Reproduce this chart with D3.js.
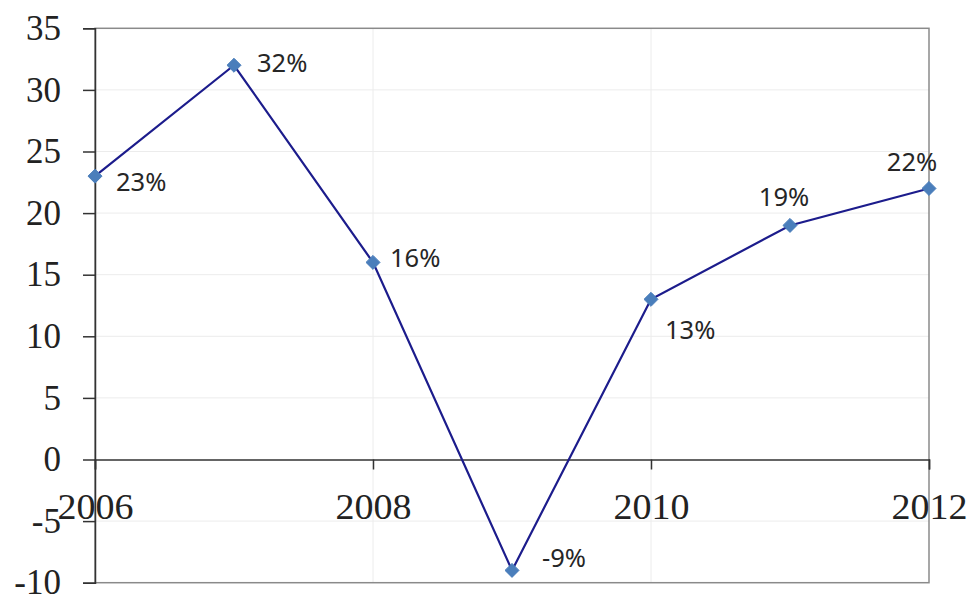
<!DOCTYPE html>
<html>
<head>
<meta charset="utf-8">
<script src="https://cdn.jsdelivr.net/npm/d3@7/dist/d3.min.js"></script>
<style>
  html, body { margin: 0; padding: 0; background: #fff; }
  svg { display: block; }
</style>
</head>
<body>
<svg id="chart" width="969" height="597"></svg>
<script>
// Annual growth rate, percent
const years = [2006, 2007, 2008, 2009, 2010, 2011, 2012];
const values = [23, 32, 16, -9, 13, 19, 22];
const yTicks = [-10, -5, 0, 5, 10, 15, 20, 25, 30, 35];
const xTickYears = [2006, 2008, 2010, 2012];
// label placement per point: [dx, dy, anchor]
const labelPlace = [
  [21, 6, "start"],
  [23, -2, "start"],
  [17, -5, "start"],
  [30, -13, "start"],
  [14, 30, "start"],
  [-6, -29, "middle"],
  [-17, -27, "middle"]
];

const svg = d3.select("#chart");
const plotLeft = 95, plotRight = 929, plotTop = 28.3, plotBottom = 582.7;

const x = d3.scaleLinear().domain([2006, 2012]).range([plotLeft, plotRight]);
const y = d3.scaleLinear().domain([-10, 35]).range([plotBottom, plotTop]);

// light gridlines
svg.append("g").selectAll("line").data(yTicks.filter(v => v !== 0 && v !== -10 && v !== 35))
  .join("line")
  .attr("x1", plotLeft).attr("x2", plotRight)
  .attr("y1", d => y(d)).attr("y2", d => y(d))
  .attr("stroke", "#ececec").attr("stroke-width", 1);
svg.append("g").selectAll("line").data([2008, 2010])
  .join("line")
  .attr("x1", d => x(d)).attr("x2", d => x(d))
  .attr("y1", plotTop).attr("y2", plotBottom)
  .attr("stroke", "#ececec").attr("stroke-width", 1);

// plot frame
svg.append("rect")
  .attr("x", plotLeft).attr("y", plotTop)
  .attr("width", plotRight - plotLeft).attr("height", plotBottom - plotTop)
  .attr("fill", "none").attr("stroke", "#8a8a8a").attr("stroke-width", 1.5);

// y axis
const yAxis = d3.axisLeft(y).tickValues(yTicks).tickFormat(d => String(d)).tickSize(12).tickPadding(22);
const gy = svg.append("g").attr("transform", `translate(${plotLeft},0)`).call(yAxis);
gy.select(".domain").attr("stroke", "#333").attr("stroke-width", 1.5);
gy.selectAll(".tick line").attr("stroke", "#333").attr("stroke-width", 1.5);
gy.selectAll(".tick text")
  .attr("font-family", "'Liberation Serif', 'Times New Roman', serif")
  .attr("font-size", 35).attr("fill", "#222")
  .attr("dy", "0.32em");

// x axis on the zero line
const xAxis = d3.axisBottom(x).tickValues(xTickYears).tickFormat(d => String(d)).tickSize(10).tickPadding(24);
const gx = svg.append("g").attr("transform", `translate(0,${y(0)})`).call(xAxis);
gx.select(".domain").attr("stroke", "#333").attr("stroke-width", 1.5);
gx.selectAll(".tick line").attr("stroke", "#333").attr("stroke-width", 1.5);
gx.selectAll(".tick text")
  .attr("font-family", "'Liberation Serif', 'Times New Roman', serif")
  .attr("font-size", 36).attr("fill", "#222")
  .attr("textLength", 76).attr("lengthAdjust", "spacingAndGlyphs");

const data = years.map((yr, i) => ({ yr, v: values[i], p: labelPlace[i] }));

// series line
svg.append("path").datum(data)
  .attr("d", d3.line().x(d => x(d.yr)).y(d => y(d.v)))
  .attr("fill", "none").attr("stroke", "#1c1c8c").attr("stroke-width", 2.2);

// diamond markers
svg.append("g").selectAll("path").data(data).join("path")
  .attr("d", d3.symbol().type(d3.symbolDiamond2).size(125))
  .attr("transform", d => `translate(${x(d.yr)},${y(d.v)})`)
  .attr("fill", "#4a7ebb").attr("stroke", "#4a7ebb").attr("stroke-width", 1);

// value labels
svg.append("g").selectAll("text").data(data).join("text")
  .attr("x", d => x(d.yr) + d.p[0])
  .attr("y", d => y(d.v) + d.p[1])
  .attr("dy", "0.36em")
  .attr("text-anchor", d => d.p[2])
  .attr("font-family", "'Noto Sans', 'Open Sans', sans-serif")
  .attr("font-size", 25.5).attr("fill", "#262626")
  .text(d => d.v + "%");
</script>
</body>
</html>
